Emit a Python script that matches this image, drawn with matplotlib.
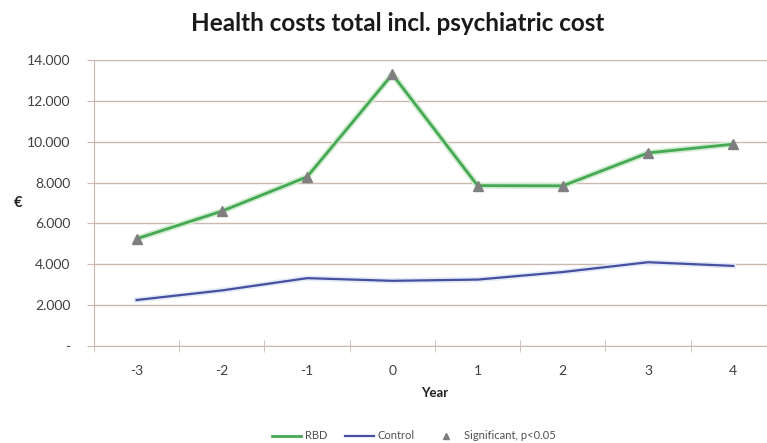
import matplotlib
matplotlib.use('Agg')
import matplotlib.pyplot as plt
from matplotlib.lines import Line2D

plt.rcParams['font.family'] = ['Lato', 'DejaVu Sans']

# years relative to diagnosis
years = ['-3', '-2', '-1', '0', '1', '2', '3', '4']
# health costs in euro
rbd = [5250, 6600, 8280, 13300, 7850, 7840, 9450, 9880]
control = [2250, 2720, 3320, 3190, 3250, 3620, 4100, 3920]
yticks = [0, 2000, 4000, 6000, 8000, 10000, 12000, 14000]
ytick_labels = ['-', '2.000', '4.000', '6.000', '8.000', '10.000', '12.000', '14.000']

grid_col = '#cbb8b0'
green = '#45a853'
blue = '#464fa0'
text_col = '#404040'

fig = plt.figure(figsize=(7.67, 4.43), dpi=100)
ax = fig.add_axes([0.1226, 0.219, 0.889, 0.6456])

x = list(range(len(years)))

# soft glow under the lines
ax.plot(x, rbd, color='#d2ecd2', lw=4.5, solid_capstyle='round', zorder=2)
ax.plot(x, rbd, color=green, lw=2, zorder=3)
ax.plot(x, rbd, linestyle='none', marker='^', markersize=7,
        color='#7f7f7f', zorder=4)
ax.plot(x, control, color='#e3ebf6', lw=4, zorder=2)
ax.plot(x, control, color=blue, lw=1.6, zorder=3)

ax.set_xlim(-0.5, len(years) - 0.5)
ax.set_ylim(0, 14000)

ax.set_yticks(yticks)
ax.set_yticklabels(ytick_labels)
ax.yaxis.grid(True, color=grid_col, lw=1)
ax.set_axisbelow(True)

ax.set_xticks(x)
ax.set_xticklabels(years)
ax.set_xticks([i - 0.5 for i in range(len(years) + 1)], minor=True)
ax.tick_params(axis='x', which='major', length=0, pad=14, labelsize=10,
               labelcolor=text_col)
ax.tick_params(axis='x', which='minor', length=8, direction='inout',
               color=grid_col)
ax.tick_params(axis='y', length=5, color=grid_col, labelsize=10,
               labelcolor=text_col, pad=12)

for s in ['top', 'right']:
    ax.spines[s].set_visible(False)
for s in ['left', 'bottom']:
    ax.spines[s].set_color(grid_col)

ax.set_xlabel('Year', fontsize=9.5, fontweight='bold', color='#202020',
              labelpad=7)
fig.text(0.023, 0.542, '€', fontsize=10.5, fontweight='bold', color='#202020',
         ha='center', va='center')

fig.text(0.519, 0.948, 'Health costs total incl. psychiatric cost',
         fontsize=17.5, fontweight='bold', color='#1a1a1a',
         ha='center', va='center')

handles = [
    Line2D([], [], color=green, lw=2),
    Line2D([], [], color=blue, lw=1.6),
    Line2D([], [], color='#7f7f7f', marker='^', linestyle='none',
           markersize=5),
]
fig.legend(handles, ['RBD', 'Control', 'Significant, p<0.05'],
           loc='center', bbox_to_anchor=(0.54, 0.016), ncol=3,
           frameon=False, fontsize=8, labelcolor='#505050',
           handlelength=2.6, handletextpad=0.3, columnspacing=1.6)

fig.savefig('out.png', dpi=100, facecolor='white')
